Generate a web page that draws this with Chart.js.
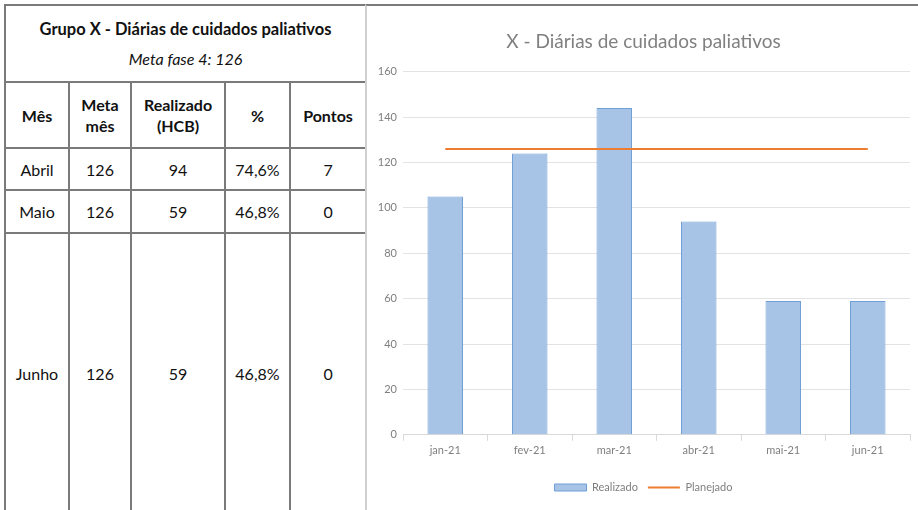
<!DOCTYPE html>
<html>
<head>
<meta charset="utf-8">
<script src="https://cdn.jsdelivr.net/npm/chart.js@4.4.0/dist/chart.umd.min.js"></script>
<style>
  html, body { margin: 0; padding: 0; background: #fff; }
  body { width: 918px; height: 510px; overflow: hidden; position: relative; font-family: Lato, "Open Sans", sans-serif; }
  #tbl { position: absolute; left: 4px; top: 4px; width: 361px; table-layout: fixed; border-collapse: collapse; color: #111; font-size: 16px; }
  #tbl td { border: 2px solid #7a7a7a; text-align: center; padding: 0; }
  #tbl .title { font-weight: bold; font-size: 16.5px; }
  #tbl .sub { font-style: italic; font-weight: normal; font-size: 16px; }
  #tbl .head td { font-weight: bold; line-height: 21px; }
  #chartBox { position: absolute; left: 365px; top: 4px; width: 553px; height: 506px; border-top: 2px solid #7a7a7a; border-left: 2px solid #d0d0d0; box-sizing: border-box; }
</style>
</head>
<body>
<table id="tbl">
  <colgroup><col style="width:64px"><col style="width:62px"><col style="width:94px"><col style="width:65px"><col style="width:76px"></colgroup>
  <tr style="height:77px"><td colspan="5"><div class="title">Grupo X - Diárias de cuidados paliativos</div><div class="sub" style="margin-top:10px">Meta fase 4: 126</div></td></tr>
  <tr class="head" style="height:66px">
    <td>Mês</td><td>Meta<br>mês</td><td>Realizado<br>(HCB)</td><td>%</td><td>Pontos</td>
  </tr>
  <tbody id="rows"></tbody>
</table>
<div id="chartBox"><canvas id="chart"></canvas></div>
<script>
// table data
const meses = ["Abril", "Maio", "Junho"];
const metaMes = [126, 126, 126];
const realizadoHCB = [94, 59, 59];
const percentual = ["74,6%", "46,8%", "46,8%"];
const pontos = [7, 0, 0];
const rowHeights = [42, 43, 280];

// chart data
const labels = ["jan-21", "fev-21", "mar-21", "abr-21", "mai-21", "jun-21"];
const realizado = [105, 124, 144, 94, 59, 59];
const planejado = [126, 126, 126, 126, 126, 126];

const tbody = document.getElementById("rows");
meses.forEach((m, i) => {
  const tr = document.createElement("tr");
  tr.style.height = rowHeights[i] + "px";
  [m, metaMes[i], realizadoHCB[i], percentual[i], pontos[i]].forEach((v) => {
    const td = document.createElement("td");
    td.textContent = v;
    tr.appendChild(td);
  });
  tbody.appendChild(tr);
});

const grey = "#7f7f7f";
const font = "Lato, 'Open Sans', sans-serif";

new Chart(document.getElementById("chart").getContext("2d"), {
  data: {
    labels: labels,
    datasets: [
      {
        type: "line",
        label: "Planejado",
        data: planejado,
        borderColor: "#ed7d31",
        backgroundColor: "#ed7d31",
        borderWidth: 2,
        pointRadius: 0,
        pointStyle: "line",
        order: 0,
      },
      {
        type: "bar",
        label: "Realizado",
        data: realizado,
        backgroundColor: "#a7c4e6",
        borderColor: "#6f9fd6",
        borderWidth: 1,
        pointStyle: "rect",
        barPercentage: 0.42,
        categoryPercentage: 1,
        order: 1,
      },
    ],
  },
  options: {
    responsive: true,
    maintainAspectRatio: false,
    animation: false,
    layout: { padding: { left: 10, right: 8, bottom: 7 } },
    plugins: {
      title: {
        display: true,
        text: "X - Diárias de cuidados paliativos",
        color: "#808080",
        font: { family: font, size: 19, weight: "normal" },
        padding: { top: 24, bottom: 19 },
      },
      legend: {
        position: "bottom",
        reverse: true,
        labels: {
          usePointStyle: true,
          pointStyleWidth: 32,
          boxHeight: 7,
          color: grey,
          font: { family: font, size: 11 },
          padding: 10,
        },
      },
      tooltip: { enabled: false },
    },
    scales: {
      x: {
        offset: true,
        afterFit: (s) => { s.height += 12; },
        grid: { offset: true, drawOnChartArea: false, tickLength: 6, color: "#d9d9d9" },
        border: { color: "#d9d9d9" },
        ticks: { color: grey, font: { family: font, size: 11 }, padding: 3 },
      },
      y: {
        min: 0,
        max: 160,
        afterFit: (s) => { s.width = 26; },
        ticks: { stepSize: 20, color: grey, font: { family: font, size: 11 }, padding: 6 },
        grid: { color: "#e3e3e3", drawTicks: false },
        border: { display: false },
      },
    },
  },
});
</script>
</body>
</html>
